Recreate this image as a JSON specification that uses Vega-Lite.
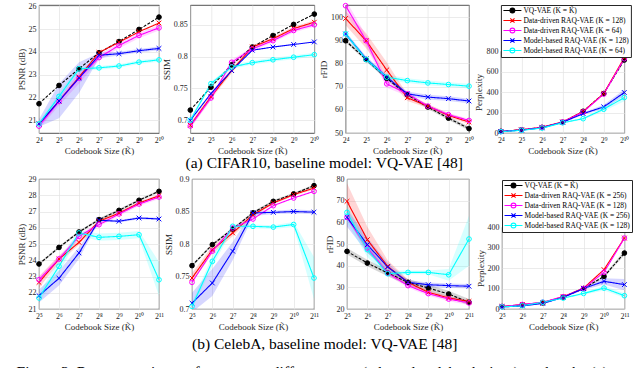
{
"$schema":"https://vega.github.io/schema/vega-lite/v6.json",
"padding":{"left":16,"top":0,"right":0,"bottom":0},
"data":{"values":[
{"p":"c1","s":"a","x":4,"y":21.73},{"p":"c1","s":"a","x":5,"y":22.53},{"p":"c1","s":"a","x":6,"y":23.26},{"p":"c1","s":"a","x":7,"y":23.96},{"p":"c1","s":"a","x":8,"y":24.45},{"p":"c1","s":"a","x":9,"y":24.98},{"p":"c1","s":"a","x":10,"y":25.52},
{"p":"c1","s":"b","x":4,"y":20.85},{"p":"c1","s":"b","x":5,"y":21.85},{"p":"c1","s":"b","x":6,"y":22.9},{"p":"c1","s":"b","x":7,"y":23.97},{"p":"c1","s":"b","x":8,"y":24.42},{"p":"c1","s":"b","x":9,"y":24.88},{"p":"c1","s":"b","x":10,"y":25.26},
{"p":"c1","s":"c","x":4,"y":20.75,"lo":20.62,"hi":20.9},{"p":"c1","s":"c","x":5,"y":21.83,"lo":21.65,"hi":22.0},{"p":"c1","s":"c","x":6,"y":22.85,"lo":22.6,"hi":23.1},{"p":"c1","s":"c","x":7,"y":23.75,"lo":23.62,"hi":23.88},{"p":"c1","s":"c","x":8,"y":24.28,"lo":24.16,"hi":24.4},{"p":"c1","s":"c","x":9,"y":24.72,"lo":24.6,"hi":24.84},{"p":"c1","s":"c","x":10,"y":25.05,"lo":24.93,"hi":25.17},
{"p":"c1","s":"d","x":4,"y":20.85,"lo":20.72,"hi":21.05},{"p":"c1","s":"d","x":5,"y":21.85,"lo":21.1,"hi":22.6},{"p":"c1","s":"d","x":6,"y":22.85,"lo":22.2,"hi":23.55},{"p":"c1","s":"d","x":7,"y":23.85,"lo":23.72,"hi":23.95},{"p":"c1","s":"d","x":8,"y":23.92,"lo":23.84,"hi":24.0},{"p":"c1","s":"d","x":9,"y":24.05,"lo":23.97,"hi":24.13},{"p":"c1","s":"d","x":10,"y":24.15,"lo":24.07,"hi":24.23},
{"p":"c1","s":"e","x":4,"y":20.85,"lo":20.77,"hi":20.93},{"p":"c1","s":"e","x":5,"y":22.05,"lo":21.9,"hi":22.2},{"p":"c1","s":"e","x":6,"y":23.26,"lo":23.16,"hi":23.36},{"p":"c1","s":"e","x":7,"y":23.3,"lo":23.22,"hi":23.38},{"p":"c1","s":"e","x":8,"y":23.38,"lo":23.3,"hi":23.46},{"p":"c1","s":"e","x":9,"y":23.55,"lo":23.47,"hi":23.63},{"p":"c1","s":"e","x":10,"y":23.65,"lo":23.57,"hi":23.73},

{"p":"c2","s":"a","x":4,"y":0.716},{"p":"c2","s":"a","x":5,"y":0.752},{"p":"c2","s":"a","x":6,"y":0.787},{"p":"c2","s":"a","x":7,"y":0.815},{"p":"c2","s":"a","x":8,"y":0.833},{"p":"c2","s":"a","x":9,"y":0.8505},{"p":"c2","s":"a","x":10,"y":0.8667},
{"p":"c2","s":"b","x":4,"y":0.692,"lo":0.688,"hi":0.696},{"p":"c2","s":"b","x":5,"y":0.737,"lo":0.733,"hi":0.741},{"p":"c2","s":"b","x":6,"y":0.778,"lo":0.774,"hi":0.782},{"p":"c2","s":"b","x":7,"y":0.815,"lo":0.812,"hi":0.818},{"p":"c2","s":"b","x":8,"y":0.828,"lo":0.825,"hi":0.831},{"p":"c2","s":"b","x":9,"y":0.844,"lo":0.841,"hi":0.847},{"p":"c2","s":"b","x":10,"y":0.854,"lo":0.851,"hi":0.857},
{"p":"c2","s":"c","x":4,"y":0.691,"lo":0.687,"hi":0.695},{"p":"c2","s":"c","x":5,"y":0.735,"lo":0.731,"hi":0.739},{"p":"c2","s":"c","x":6,"y":0.791,"lo":0.787,"hi":0.795},{"p":"c2","s":"c","x":7,"y":0.812,"lo":0.809,"hi":0.815},{"p":"c2","s":"c","x":8,"y":0.825,"lo":0.822,"hi":0.828},{"p":"c2","s":"c","x":9,"y":0.841,"lo":0.838,"hi":0.844},{"p":"c2","s":"c","x":10,"y":0.85,"lo":0.847,"hi":0.853},
{"p":"c2","s":"d","x":4,"y":0.70},{"p":"c2","s":"d","x":5,"y":0.742},{"p":"c2","s":"d","x":6,"y":0.778},{"p":"c2","s":"d","x":7,"y":0.81},{"p":"c2","s":"d","x":8,"y":0.815},{"p":"c2","s":"d","x":9,"y":0.819},{"p":"c2","s":"d","x":10,"y":0.823},
{"p":"c2","s":"e","x":4,"y":0.70,"lo":0.697,"hi":0.703},{"p":"c2","s":"e","x":5,"y":0.7575,"lo":0.7545,"hi":0.7605},{"p":"c2","s":"e","x":6,"y":0.7836,"lo":0.7806,"hi":0.7866},{"p":"c2","s":"e","x":7,"y":0.7904,"lo":0.7874,"hi":0.7934},{"p":"c2","s":"e","x":8,"y":0.795,"lo":0.792,"hi":0.798},{"p":"c2","s":"e","x":9,"y":0.799,"lo":0.796,"hi":0.802},{"p":"c2","s":"e","x":10,"y":0.803,"lo":0.8,"hi":0.806},

{"p":"c3","s":"a","x":4,"y":89.8,"lo":89.0,"hi":90.6},{"p":"c3","s":"a","x":5,"y":81.7,"lo":80.9,"hi":82.5},{"p":"c3","s":"a","x":6,"y":73.6,"lo":72.8,"hi":74.4},{"p":"c3","s":"a","x":7,"y":66.5,"lo":65.7,"hi":67.3},{"p":"c3","s":"a","x":8,"y":61.2,"lo":60.4,"hi":62.0},{"p":"c3","s":"a","x":9,"y":56.4,"lo":55.6,"hi":57.2},{"p":"c3","s":"a","x":10,"y":51.9,"lo":51.1,"hi":52.7},
{"p":"c3","s":"b","x":4,"y":99.4,"lo":96.5,"hi":102.5},{"p":"c3","s":"b","x":5,"y":89.8,"lo":86.5,"hi":93.0},{"p":"c3","s":"b","x":6,"y":77.2,"lo":74.0,"hi":80.5},{"p":"c3","s":"b","x":7,"y":65.2,"lo":63.8,"hi":66.6},{"p":"c3","s":"b","x":8,"y":61.6,"lo":60.8,"hi":62.5},{"p":"c3","s":"b","x":9,"y":57.6,"lo":56.8,"hi":58.5},{"p":"c3","s":"b","x":10,"y":54.7,"lo":53.8,"hi":55.6},
{"p":"c3","s":"c","x":4,"y":104.9,"lo":102.0,"hi":107.5},{"p":"c3","s":"c","x":5,"y":89.8,"lo":87.5,"hi":92.0},{"p":"c3","s":"c","x":6,"y":71.2,"lo":69.5,"hi":73.0},{"p":"c3","s":"c","x":7,"y":66.9,"lo":66.0,"hi":67.8},{"p":"c3","s":"c","x":8,"y":61.6,"lo":60.9,"hi":62.3},{"p":"c3","s":"c","x":9,"y":57.9,"lo":57.2,"hi":58.6},{"p":"c3","s":"c","x":10,"y":55.4,"lo":54.7,"hi":56.1},
{"p":"c3","s":"d","x":4,"y":92.7,"lo":91.7,"hi":93.7},{"p":"c3","s":"d","x":5,"y":82.0,"lo":81.0,"hi":83.0},{"p":"c3","s":"d","x":6,"y":74.1,"lo":73.1,"hi":75.1},{"p":"c3","s":"d","x":7,"y":66.9,"lo":65.9,"hi":67.9},{"p":"c3","s":"d","x":8,"y":65.5,"lo":64.5,"hi":66.5},{"p":"c3","s":"d","x":9,"y":64.8,"lo":63.8,"hi":65.8},{"p":"c3","s":"d","x":10,"y":63.8,"lo":62.8,"hi":64.8},
{"p":"c3","s":"e","x":4,"y":92.8,"lo":91.8,"hi":93.8},{"p":"c3","s":"e","x":5,"y":81.7,"lo":80.7,"hi":82.7},{"p":"c3","s":"e","x":6,"y":74.1,"lo":73.1,"hi":75.1},{"p":"c3","s":"e","x":7,"y":72.6,"lo":71.6,"hi":73.6},{"p":"c3","s":"e","x":8,"y":71.6,"lo":70.6,"hi":72.6},{"p":"c3","s":"e","x":9,"y":70.9,"lo":69.9,"hi":71.9},{"p":"c3","s":"e","x":10,"y":70.2,"lo":69.2,"hi":71.2},

{"p":"c4","s":"a","x":4,"y":16},{"p":"c4","s":"a","x":5,"y":31},{"p":"c4","s":"a","x":6,"y":55},{"p":"c4","s":"a","x":7,"y":105},{"p":"c4","s":"a","x":8,"y":212},{"p":"c4","s":"a","x":9,"y":385},{"p":"c4","s":"a","x":10,"y":712},
{"p":"c4","s":"b","x":4,"y":16},{"p":"c4","s":"b","x":5,"y":31},{"p":"c4","s":"b","x":6,"y":56},{"p":"c4","s":"b","x":7,"y":108},{"p":"c4","s":"b","x":8,"y":210},{"p":"c4","s":"b","x":9,"y":385},{"p":"c4","s":"b","x":10,"y":735},
{"p":"c4","s":"c","x":4,"y":15},{"p":"c4","s":"c","x":5,"y":30},{"p":"c4","s":"c","x":6,"y":54},{"p":"c4","s":"c","x":7,"y":107},{"p":"c4","s":"c","x":8,"y":205},{"p":"c4","s":"c","x":9,"y":380},{"p":"c4","s":"c","x":10,"y":725},
{"p":"c4","s":"d","x":4,"y":14,"lo":12,"hi":16},{"p":"c4","s":"d","x":5,"y":28,"lo":25,"hi":31},{"p":"c4","s":"d","x":6,"y":50,"lo":46,"hi":54},{"p":"c4","s":"d","x":7,"y":105,"lo":99,"hi":111},{"p":"c4","s":"d","x":8,"y":189,"lo":178,"hi":200},{"p":"c4","s":"d","x":9,"y":255,"lo":235,"hi":275},{"p":"c4","s":"d","x":10,"y":395,"lo":365,"hi":425},
{"p":"c4","s":"e","x":4,"y":13,"lo":11,"hi":15},{"p":"c4","s":"e","x":5,"y":26,"lo":23,"hi":29},{"p":"c4","s":"e","x":6,"y":48,"lo":44,"hi":52},{"p":"c4","s":"e","x":7,"y":100,"lo":94,"hi":106},{"p":"c4","s":"e","x":8,"y":140,"lo":130,"hi":150},{"p":"c4","s":"e","x":9,"y":232,"lo":212,"hi":252},{"p":"c4","s":"e","x":10,"y":346,"lo":310,"hi":380},

{"p":"e1","s":"a","x":5,"y":23.77,"lo":23.69,"hi":23.85},{"p":"e1","s":"a","x":6,"y":24.79,"lo":24.71,"hi":24.87},{"p":"e1","s":"a","x":7,"y":25.74,"lo":25.66,"hi":25.82},{"p":"e1","s":"a","x":8,"y":26.5,"lo":26.42,"hi":26.58},{"p":"e1","s":"a","x":9,"y":27.07,"lo":26.99,"hi":27.15},{"p":"e1","s":"a","x":10,"y":27.69,"lo":27.61,"hi":27.77},{"p":"e1","s":"a","x":11,"y":28.24,"lo":28.16,"hi":28.32},
{"p":"e1","s":"b","x":5,"y":22.64,"lo":22.3,"hi":23.0},{"p":"e1","s":"b","x":6,"y":24.08,"lo":23.85,"hi":24.3},{"p":"e1","s":"b","x":7,"y":25.1,"lo":24.95,"hi":25.3},{"p":"e1","s":"b","x":8,"y":26.4,"lo":26.3,"hi":26.5},{"p":"e1","s":"b","x":9,"y":26.9,"lo":26.8,"hi":27.0},{"p":"e1","s":"b","x":10,"y":27.52,"lo":27.42,"hi":27.62},{"p":"e1","s":"b","x":11,"y":27.97,"lo":27.88,"hi":28.06},
{"p":"e1","s":"c","x":5,"y":22.8,"lo":22.6,"hi":23.0},{"p":"e1","s":"c","x":6,"y":24.08,"lo":23.92,"hi":24.24},{"p":"e1","s":"c","x":7,"y":25.47,"lo":25.32,"hi":25.62},{"p":"e1","s":"c","x":8,"y":26.19,"lo":26.07,"hi":26.31},{"p":"e1","s":"c","x":9,"y":26.85,"lo":26.73,"hi":26.97},{"p":"e1","s":"c","x":10,"y":27.46,"lo":27.34,"hi":27.58},{"p":"e1","s":"c","x":11,"y":27.89,"lo":27.77,"hi":28.01},
{"p":"e1","s":"d","x":5,"y":21.82,"lo":21.4,"hi":22.2},{"p":"e1","s":"d","x":6,"y":22.89,"lo":22.45,"hi":23.35},{"p":"e1","s":"d","x":7,"y":24.45,"lo":24.1,"hi":24.8},{"p":"e1","s":"d","x":8,"y":26.46,"lo":26.38,"hi":26.54},{"p":"e1","s":"d","x":9,"y":26.4,"lo":26.32,"hi":26.48},{"p":"e1","s":"d","x":10,"y":26.6,"lo":26.52,"hi":26.68},{"p":"e1","s":"d","x":11,"y":26.54,"lo":26.46,"hi":26.62},
{"p":"e1","s":"e","x":5,"y":21.68,"lo":21.4,"hi":21.95},{"p":"e1","s":"e","x":6,"y":23.63,"lo":23.2,"hi":24.05},{"p":"e1","s":"e","x":7,"y":25.68,"lo":25.5,"hi":25.85},{"p":"e1","s":"e","x":8,"y":25.41,"lo":25.2,"hi":25.65},{"p":"e1","s":"e","x":9,"y":25.47,"lo":25.25,"hi":25.7},{"p":"e1","s":"e","x":10,"y":25.57,"lo":25.35,"hi":25.8},{"p":"e1","s":"e","x":11,"y":22.8,"lo":21.8,"hi":23.9},

{"p":"e2","s":"a","x":5,"y":0.7667,"lo":0.7647,"hi":0.7687},{"p":"e2","s":"a","x":6,"y":0.799,"lo":0.797,"hi":0.801},{"p":"e2","s":"a","x":7,"y":0.823,"lo":0.821,"hi":0.825},{"p":"e2","s":"a","x":8,"y":0.848,"lo":0.846,"hi":0.85},{"p":"e2","s":"a","x":9,"y":0.8656,"lo":0.8636,"hi":0.8676},{"p":"e2","s":"a","x":10,"y":0.877,"lo":0.875,"hi":0.879},{"p":"e2","s":"a","x":11,"y":0.8897,"lo":0.8877,"hi":0.8917},
{"p":"e2","s":"b","x":5,"y":0.7477,"lo":0.741,"hi":0.755},{"p":"e2","s":"b","x":6,"y":0.791,"lo":0.785,"hi":0.797},{"p":"e2","s":"b","x":7,"y":0.817,"lo":0.812,"hi":0.822},{"p":"e2","s":"b","x":8,"y":0.845,"lo":0.842,"hi":0.848},{"p":"e2","s":"b","x":9,"y":0.863,"lo":0.861,"hi":0.865},{"p":"e2","s":"b","x":10,"y":0.876,"lo":0.874,"hi":0.878},{"p":"e2","s":"b","x":11,"y":0.886,"lo":0.884,"hi":0.888},
{"p":"e2","s":"c","x":5,"y":0.741},{"p":"e2","s":"c","x":6,"y":0.789},{"p":"e2","s":"c","x":7,"y":0.8246},{"p":"e2","s":"c","x":8,"y":0.8385},{"p":"e2","s":"c","x":9,"y":0.859},{"p":"e2","s":"c","x":10,"y":0.8708},{"p":"e2","s":"c","x":11,"y":0.881},
{"p":"e2","s":"d","x":5,"y":0.709,"lo":0.695,"hi":0.725},{"p":"e2","s":"d","x":6,"y":0.74,"lo":0.72,"hi":0.762},{"p":"e2","s":"d","x":7,"y":0.789,"lo":0.775,"hi":0.803},{"p":"e2","s":"d","x":8,"y":0.8477,"lo":0.843,"hi":0.852},{"p":"e2","s":"d","x":9,"y":0.8487,"lo":0.846,"hi":0.851},{"p":"e2","s":"d","x":10,"y":0.85,"lo":0.847,"hi":0.853},{"p":"e2","s":"d","x":11,"y":0.849,"lo":0.846,"hi":0.852},
{"p":"e2","s":"e","x":5,"y":0.704,"lo":0.7,"hi":0.71},{"p":"e2","s":"e","x":6,"y":0.7733,"lo":0.765,"hi":0.782},{"p":"e2","s":"e","x":7,"y":0.8272,"lo":0.823,"hi":0.831},{"p":"e2","s":"e","x":8,"y":0.8272,"lo":0.824,"hi":0.83},{"p":"e2","s":"e","x":9,"y":0.826,"lo":0.823,"hi":0.829},{"p":"e2","s":"e","x":10,"y":0.83,"lo":0.826,"hi":0.834},{"p":"e2","s":"e","x":11,"y":0.7477,"lo":0.715,"hi":0.78},

{"p":"e3","s":"a","x":5,"y":46.6,"lo":45.1,"hi":48.1},{"p":"e3","s":"a","x":6,"y":41.2,"lo":39.7,"hi":42.7},{"p":"e3","s":"a","x":7,"y":36.6,"lo":35.1,"hi":38.1},{"p":"e3","s":"a","x":8,"y":32.3,"lo":30.8,"hi":33.8},{"p":"e3","s":"a","x":9,"y":29.7,"lo":28.2,"hi":31.2},{"p":"e3","s":"a","x":10,"y":26.9,"lo":25.4,"hi":28.4},{"p":"e3","s":"a","x":11,"y":23.1,"lo":21.6,"hi":24.6},
{"p":"e3","s":"b","x":5,"y":69.7,"lo":62,"hi":78},{"p":"e3","s":"b","x":6,"y":52.0,"lo":46,"hi":58},{"p":"e3","s":"b","x":7,"y":39.7,"lo":37,"hi":42.5},{"p":"e3","s":"b","x":8,"y":32.3,"lo":31,"hi":33.6},{"p":"e3","s":"b","x":9,"y":27.7,"lo":26.8,"hi":28.6},{"p":"e3","s":"b","x":10,"y":25.1,"lo":24.3,"hi":25.9},{"p":"e3","s":"b","x":11,"y":23.5,"lo":22.8,"hi":24.2},
{"p":"e3","s":"c","x":5,"y":62.3,"lo":61.3,"hi":63.3},{"p":"e3","s":"c","x":6,"y":48.2,"lo":47.2,"hi":49.2},{"p":"e3","s":"c","x":7,"y":36.6,"lo":35.6,"hi":37.6},{"p":"e3","s":"c","x":8,"y":30.8,"lo":29.8,"hi":31.8},{"p":"e3","s":"c","x":9,"y":27.1,"lo":26.1,"hi":28.1},{"p":"e3","s":"c","x":10,"y":24.6,"lo":23.6,"hi":25.6},{"p":"e3","s":"c","x":11,"y":22.8,"lo":21.8,"hi":23.8},
{"p":"e3","s":"d","x":5,"y":62.3,"lo":58,"hi":66},{"p":"e3","s":"d","x":6,"y":49.7,"lo":46,"hi":53},{"p":"e3","s":"d","x":7,"y":39.4,"lo":37.5,"hi":41.3},{"p":"e3","s":"d","x":8,"y":32.3,"lo":31.3,"hi":33.3},{"p":"e3","s":"d","x":9,"y":31.2,"lo":30.2,"hi":32.2},{"p":"e3","s":"d","x":10,"y":30.8,"lo":29.8,"hi":31.8},{"p":"e3","s":"d","x":11,"y":30.5,"lo":29.5,"hi":31.5},
{"p":"e3","s":"e","x":5,"y":64.6,"lo":60,"hi":68},{"p":"e3","s":"e","x":6,"y":47.4,"lo":44,"hi":50},{"p":"e3","s":"e","x":7,"y":36.3,"lo":35,"hi":37.6},{"p":"e3","s":"e","x":8,"y":36.9,"lo":36,"hi":37.8},{"p":"e3","s":"e","x":9,"y":36.9,"lo":36,"hi":37.8},{"p":"e3","s":"e","x":10,"y":35.8,"lo":33,"hi":38.5},{"p":"e3","s":"e","x":11,"y":52.3,"lo":40,"hi":63},

{"p":"e4","s":"a","x":5,"y":12,"lo":11,"hi":13},{"p":"e4","s":"a","x":6,"y":19,"lo":17,"hi":21},{"p":"e4","s":"a","x":7,"y":30,"lo":28,"hi":32},{"p":"e4","s":"a","x":8,"y":58,"lo":55,"hi":61},{"p":"e4","s":"a","x":9,"y":100,"lo":96,"hi":104},{"p":"e4","s":"a","x":10,"y":159,"lo":152,"hi":166},{"p":"e4","s":"a","x":11,"y":273,"lo":262,"hi":285},
{"p":"e4","s":"b","x":5,"y":12},{"p":"e4","s":"b","x":6,"y":22},{"p":"e4","s":"b","x":7,"y":32},{"p":"e4","s":"b","x":8,"y":60},{"p":"e4","s":"b","x":9,"y":102},{"p":"e4","s":"b","x":10,"y":192},{"p":"e4","s":"b","x":11,"y":346},
{"p":"e4","s":"c","x":5,"y":12},{"p":"e4","s":"c","x":6,"y":22},{"p":"e4","s":"c","x":7,"y":33},{"p":"e4","s":"c","x":8,"y":60},{"p":"e4","s":"c","x":9,"y":100},{"p":"e4","s":"c","x":10,"y":179},{"p":"e4","s":"c","x":11,"y":346},
{"p":"e4","s":"d","x":5,"y":10,"lo":9,"hi":11},{"p":"e4","s":"d","x":6,"y":15,"lo":13,"hi":17},{"p":"e4","s":"d","x":7,"y":27,"lo":25,"hi":29},{"p":"e4","s":"d","x":8,"y":57,"lo":54,"hi":60},{"p":"e4","s":"d","x":9,"y":100,"lo":93,"hi":107},{"p":"e4","s":"d","x":10,"y":135,"lo":120,"hi":150},{"p":"e4","s":"d","x":11,"y":119,"lo":92,"hi":146},
{"p":"e4","s":"e","x":5,"y":10,"lo":9,"hi":11},{"p":"e4","s":"e","x":6,"y":16,"lo":14,"hi":18},{"p":"e4","s":"e","x":7,"y":33,"lo":31,"hi":35},{"p":"e4","s":"e","x":8,"y":53,"lo":50,"hi":56},{"p":"e4","s":"e","x":9,"y":76,"lo":70,"hi":82},{"p":"e4","s":"e","x":10,"y":102,"lo":90,"hi":114},{"p":"e4","s":"e","x":11,"y":65,"lo":55,"hi":77}
]},
"title":{"text":"Figure 3: Reconstruction performance at different rates (adapted codebook sizes), and at the (a)","orient":"bottom","anchor":"start","fontSize":15.5,"offset":12},
"spacing":2,
"vconcat":[
{"hconcat":[
 {"width":120,"height":128,"transform":[{"filter":"datum.p=='c1'"}],
  "encoding":{"x":{"field":"x","type":"quantitative","scale":{"domain":[4,10],"nice":false,"zero":false},"axis":{"values":[4,5,6,7,8,9,10],"title":"Codebook Size (K\u0303)","labelExpr":"'2'+(datum.value==4?'\u2074':datum.value==5?'\u2075':datum.value==6?'\u2076':datum.value==7?'\u2077':datum.value==8?'\u2078':datum.value==9?'\u2079':datum.value==10?'\u00b9\u2070':'\u00b9\u00b9')"}},
   "y":{"field":"y","type":"quantitative","scale":{"domain":[20.45,26.05],"nice":false,"zero":false},"axis":{"values":[21,22,23,24,25,26],"title":"PSNR (dB)"}}},
  "layer":[
   {"transform":[{"filter":"isValid(datum.lo)"}],"mark":{"type":"area","opacity":0.16,"clip":true},"encoding":{"y":{"field":"lo","type":"quantitative","scale":{"domain":[20.45,26.05],"nice":false,"zero":false},"axis":{"values":[21,22,23,24,25,26],"title":"PSNR (dB)"}},"y2":{"field":"hi"},"color":{"field":"s","type":"nominal","scale":{"domain":["a","b","c","d","e"],"range":["#000000","#ff0000","#ff00ff","#0000ff","#00ffff"]},"legend":null}}},
   {"mark":{"type":"line","strokeWidth":1.1},"encoding":{"stroke":{"field":"s","type":"nominal","scale":{"domain":["a","b","c","d","e"],"range":["#000000","#ff0000","#ff00ff","#0000ff","#00ffff"]},"legend":null},"strokeDash":{"field":"s","type":"nominal","scale":{"domain":["a","b","c","d","e"],"range":[[3,1.5],[1,0],[1,0],[1,0],[1,0]]},"legend":null}}},
   {"mark":{"type":"point","filled":false,"opacity":1,"size":22,"strokeWidth":1},"encoding":{"stroke":{"field":"s","type":"nominal","scale":{"domain":["a","b","c","d","e"],"range":["#000000","#ff0000","#ff00ff","#0000ff","#00ffff"]},"legend":null},"fill":{"field":"s","type":"nominal","scale":{"domain":["a","b","c","d","e"],"range":["#000000","transparent","transparent","transparent","transparent"]},"legend":null},"shape":{"field":"s","type":"nominal","scale":{"domain":["a","b","c","d","e"],"range":["circle","M-1,-1L1,1M-1,1L1,-1","circle","M-1,-1L1,1M-1,1L1,-1","circle"]},"legend":null}}}
  ]},
 {"width":124,"height":128,"transform":[{"filter":"datum.p=='c2'"}],
  "encoding":{"x":{"field":"x","type":"quantitative","scale":{"domain":[4,10],"nice":false,"zero":false},"axis":{"values":[4,5,6,7,8,9,10],"title":"Codebook Size (K\u0303)","labelExpr":"'2'+(datum.value==4?'\u2074':datum.value==5?'\u2075':datum.value==6?'\u2076':datum.value==7?'\u2077':datum.value==8?'\u2078':datum.value==9?'\u2079':datum.value==10?'\u00b9\u2070':'\u00b9\u00b9')"}},
   "y":{"field":"y","type":"quantitative","scale":{"domain":[0.68,0.881],"nice":false,"zero":false},"axis":{"values":[0.7,0.75,0.8,0.85],"format":"~g","title":"SSIM"}}},
  "layer":[
   {"transform":[{"filter":"isValid(datum.lo)"}],"mark":{"type":"area","opacity":0.16,"clip":true},"encoding":{"y":{"field":"lo","type":"quantitative","scale":{"domain":[0.68,0.881],"nice":false,"zero":false},"axis":{"values":[0.7,0.75,0.8,0.85],"format":"~g","title":"SSIM"}},"y2":{"field":"hi"},"color":{"field":"s","type":"nominal","scale":{"domain":["a","b","c","d","e"],"range":["#000000","#ff0000","#ff00ff","#0000ff","#00ffff"]},"legend":null}}},
   {"mark":{"type":"line","strokeWidth":1.1},"encoding":{"stroke":{"field":"s","type":"nominal","scale":{"domain":["a","b","c","d","e"],"range":["#000000","#ff0000","#ff00ff","#0000ff","#00ffff"]},"legend":null},"strokeDash":{"field":"s","type":"nominal","scale":{"domain":["a","b","c","d","e"],"range":[[3,1.5],[1,0],[1,0],[1,0],[1,0]]},"legend":null}}},
   {"mark":{"type":"point","filled":false,"opacity":1,"size":22,"strokeWidth":1},"encoding":{"stroke":{"field":"s","type":"nominal","scale":{"domain":["a","b","c","d","e"],"range":["#000000","#ff0000","#ff00ff","#0000ff","#00ffff"]},"legend":null},"fill":{"field":"s","type":"nominal","scale":{"domain":["a","b","c","d","e"],"range":["#000000","transparent","transparent","transparent","transparent"]},"legend":null},"shape":{"field":"s","type":"nominal","scale":{"domain":["a","b","c","d","e"],"range":["circle","M-1,-1L1,1M-1,1L1,-1","circle","M-1,-1L1,1M-1,1L1,-1","circle"]},"legend":null}}}
  ]},
 {"width":123.4,"height":128,"transform":[{"filter":"datum.p=='c3'"}],
  "encoding":{"x":{"field":"x","type":"quantitative","scale":{"domain":[4,10],"nice":false,"zero":false},"axis":{"values":[4,5,6,7,8,9,10],"title":"Codebook Size (K\u0303)","labelExpr":"'2'+(datum.value==4?'\u2074':datum.value==5?'\u2075':datum.value==6?'\u2076':datum.value==7?'\u2077':datum.value==8?'\u2078':datum.value==9?'\u2079':datum.value==10?'\u00b9\u2070':'\u00b9\u00b9')"}},
   "y":{"field":"y","type":"quantitative","scale":{"domain":[50,105.2],"nice":false,"zero":false},"axis":{"values":[50,60,70,80,90,100],"title":"rFID"}}},
  "layer":[
   {"transform":[{"filter":"isValid(datum.lo)"}],"mark":{"type":"area","opacity":0.16,"clip":true},"encoding":{"y":{"field":"lo","type":"quantitative","scale":{"domain":[50,105.2],"nice":false,"zero":false},"axis":{"values":[50,60,70,80,90,100],"title":"rFID"}},"y2":{"field":"hi"},"color":{"field":"s","type":"nominal","scale":{"domain":["a","b","c","d","e"],"range":["#000000","#ff0000","#ff00ff","#0000ff","#00ffff"]},"legend":null}}},
   {"mark":{"type":"line","strokeWidth":1.1},"encoding":{"stroke":{"field":"s","type":"nominal","scale":{"domain":["a","b","c","d","e"],"range":["#000000","#ff0000","#ff00ff","#0000ff","#00ffff"]},"legend":null},"strokeDash":{"field":"s","type":"nominal","scale":{"domain":["a","b","c","d","e"],"range":[[3,1.5],[1,0],[1,0],[1,0],[1,0]]},"legend":null}}},
   {"mark":{"type":"point","filled":false,"opacity":1,"size":22,"strokeWidth":1},"encoding":{"stroke":{"field":"s","type":"nominal","scale":{"domain":["a","b","c","d","e"],"range":["#000000","#ff0000","#ff00ff","#0000ff","#00ffff"]},"legend":null},"fill":{"field":"s","type":"nominal","scale":{"domain":["a","b","c","d","e"],"range":["#000000","transparent","transparent","transparent","transparent"]},"legend":null},"shape":{"field":"s","type":"nominal","scale":{"domain":["a","b","c","d","e"],"range":["circle","M-1,-1L1,1M-1,1L1,-1","circle","M-1,-1L1,1M-1,1L1,-1","circle"]},"legend":null}}}
  ]},
 {"vconcat":[
  {"width":123.4,"height":42,"mark":{"type":"point","opacity":0},"view":{"stroke":null},"transform":[{"filter":"datum.p=='c4' && datum.x==4 && datum.s=='a'"}]},
  {"width":123.4,"height":82,"transform":[{"filter":"datum.p=='c4'"}],
  "encoding":{"x":{"field":"x","type":"quantitative","scale":{"domain":[4,10],"nice":false,"zero":false},"axis":{"values":[4,5,6,7,8,9,10],"title":"Codebook Size (K\u0303)","labelExpr":"'2'+(datum.value==4?'\u2074':datum.value==5?'\u2075':datum.value==6?'\u2076':datum.value==7?'\u2077':datum.value==8?'\u2078':datum.value==9?'\u2079':datum.value==10?'\u00b9\u2070':'\u00b9\u00b9')"}},
   "y":{"field":"y","type":"quantitative","scale":{"domain":[0,800],"nice":false,"zero":false},"axis":{"values":[0,200,400,600,800],"title":"Perplexity"}}},
  "layer":[
   {"transform":[{"filter":"isValid(datum.lo)"}],"mark":{"type":"area","opacity":0.16,"clip":true},"encoding":{"y":{"field":"lo","type":"quantitative","scale":{"domain":[0,800],"nice":false,"zero":false},"axis":{"values":[0,200,400,600,800],"title":"Perplexity"}},"y2":{"field":"hi"},"color":{"field":"s","type":"nominal","scale":{"domain":["e","d","c","b","a"],"range":["#00ffff","#0000ff","#ff00ff","#ff0000","#000000"]},"legend":null}}},
   {"mark":{"type":"line","strokeWidth":1.1},"encoding":{"stroke":{"field":"s","type":"nominal","scale":{"domain":["a","b","c","d","e"],"range":["#000000","#ff0000","#ff00ff","#0000ff","#00ffff"]},"legend":{"orient":"none","legendX":0,"legendY":-46,"title":null,"fillColor":"#ffffff","strokeColor":"#262626","padding":1.5,"rowPadding":0,"symbolSize":36,"symbolStrokeWidth":1.1,"labelOffset":13,"labelFontSize":7.5,"labelLimit":300,"labelExpr":"datum.value=='a'?'VQ-VAE (K = K\u0303)':datum.value=='b'?'Data-driven RAQ-VAE (K = 128)':datum.value=='c'?'Data-driven RAQ-VAE (K = 64)':datum.value=='d'?'Model-based RAQ-VAE (K = 128)':'Model-based RAQ-VAE (K = 64)'","encode":{"symbols":{"update":{"shape":{"signal":"(datum.value=='b'||datum.value=='d')?'M-1,0H5M1.3,-0.7L2.7,0.7M1.3,0.7L2.7,-0.7':'M-1,0H5M2.8,0A0.8,0.8 0 1,1 1.2,0A0.8,0.8 0 1,1 2.8,0'"},"size":{"value":36}}}}}},"strokeDash":{"field":"s","type":"nominal","scale":{"domain":["e","d","c","b","a"],"range":[[1,0],[1,0],[1,0],[1,0],[3,1.5]]},"legend":null}}},
   {"mark":{"type":"point","filled":false,"opacity":1,"size":22,"strokeWidth":1},"encoding":{
     "stroke":{"field":"s","type":"nominal","scale":{"domain":["a","b","c","d","e"],"range":["#000000","#ff0000","#ff00ff","#0000ff","#00ffff"]},"legend":{"orient":"none","legendX":0,"legendY":-46,"title":null,"fillColor":"#ffffff","strokeColor":"#262626","padding":1.5,"rowPadding":0,"symbolSize":36,"symbolStrokeWidth":1.1,"labelOffset":13,"labelFontSize":7.5,"labelLimit":300,"labelExpr":"datum.value=='a'?'VQ-VAE (K = K\u0303)':datum.value=='b'?'Data-driven RAQ-VAE (K = 128)':datum.value=='c'?'Data-driven RAQ-VAE (K = 64)':datum.value=='d'?'Model-based RAQ-VAE (K = 128)':'Model-based RAQ-VAE (K = 64)'","encode":{"symbols":{"update":{"shape":{"signal":"(datum.value=='b'||datum.value=='d')?'M-1,0H5M1.3,-0.7L2.7,0.7M1.3,0.7L2.7,-0.7':'M-1,0H5M2.8,0A0.8,0.8 0 1,1 1.2,0A0.8,0.8 0 1,1 2.8,0'"},"size":{"value":36}}}}}},
     "fill":{"field":"s","type":"nominal","scale":{"domain":["a","b","c","d","e"],"range":["#000000","transparent","transparent","transparent","transparent"]},"legend":{"orient":"none","legendX":0,"legendY":-46,"title":null,"fillColor":"#ffffff","strokeColor":"#262626","padding":1.5,"rowPadding":0,"symbolSize":36,"symbolStrokeWidth":1.1,"labelOffset":13,"labelFontSize":7.5,"labelLimit":300,"labelExpr":"datum.value=='a'?'VQ-VAE (K = K\u0303)':datum.value=='b'?'Data-driven RAQ-VAE (K = 128)':datum.value=='c'?'Data-driven RAQ-VAE (K = 64)':datum.value=='d'?'Model-based RAQ-VAE (K = 128)':'Model-based RAQ-VAE (K = 64)'","encode":{"symbols":{"update":{"shape":{"signal":"(datum.value=='b'||datum.value=='d')?'M-1,0H5M1.3,-0.7L2.7,0.7M1.3,0.7L2.7,-0.7':'M-1,0H5M2.8,0A0.8,0.8 0 1,1 1.2,0A0.8,0.8 0 1,1 2.8,0'"},"size":{"value":36}}}}}},
     "shape":{"field":"s","type":"nominal","scale":{"domain":["e","d","c","b","a"],"range":["circle","M-1,-1L1,1M-1,1L1,-1","circle","M-1,-1L1,1M-1,1L1,-1","circle"]},"legend":null}}}
  ]}
 ],"spacing":4,"bounds":"flush",
 "resolve":{"scale":{"color":"independent","stroke":"independent","fill":"independent","shape":"independent","strokeDash":"independent"},"legend":{"stroke":"independent","fill":"independent","shape":"independent"}}}
],"spacing":31.3,"bounds":"flush",
"resolve":{"scale":{"color":"independent","stroke":"independent","fill":"independent","shape":"independent","strokeDash":"independent"},"legend":{"stroke":"independent","fill":"independent","shape":"independent"}},
"title":{"text":"(a) CIFAR10, baseline model: VQ-VAE [48]","orient":"bottom","anchor":"middle","offset":1,"fontSize":15.5}},

{"hconcat":[
 {"width":120,"height":130,"transform":[{"filter":"datum.p=='e1'"}],
  "encoding":{"x":{"field":"x","type":"quantitative","scale":{"domain":[5,11],"nice":false,"zero":false},"axis":{"values":[5,6,7,8,9,10,11],"title":"Codebook Size (K\u0303)","labelExpr":"'2'+(datum.value==4?'\u2074':datum.value==5?'\u2075':datum.value==6?'\u2076':datum.value==7?'\u2077':datum.value==8?'\u2078':datum.value==9?'\u2079':datum.value==10?'\u00b9\u2070':'\u00b9\u00b9')"}},
   "y":{"field":"y","type":"quantitative","scale":{"domain":[21,29],"nice":false,"zero":false},"axis":{"values":[21,22,23,24,25,26,27,28,29],"title":"PSNR (dB)"}}},
  "layer":[
   {"transform":[{"filter":"isValid(datum.lo)"}],"mark":{"type":"area","opacity":0.16,"clip":true},"encoding":{"y":{"field":"lo","type":"quantitative","scale":{"domain":[21,29],"nice":false,"zero":false},"axis":{"values":[21,22,23,24,25,26,27,28,29],"title":"PSNR (dB)"}},"y2":{"field":"hi"},"color":{"field":"s","type":"nominal","scale":{"domain":["a","b","c","d","e"],"range":["#000000","#ff0000","#ff00ff","#0000ff","#00ffff"]},"legend":null}}},
   {"mark":{"type":"line","strokeWidth":1.1},"encoding":{"stroke":{"field":"s","type":"nominal","scale":{"domain":["a","b","c","d","e"],"range":["#000000","#ff0000","#ff00ff","#0000ff","#00ffff"]},"legend":null},"strokeDash":{"field":"s","type":"nominal","scale":{"domain":["a","b","c","d","e"],"range":[[3,1.5],[1,0],[1,0],[1,0],[1,0]]},"legend":null}}},
   {"mark":{"type":"point","filled":false,"opacity":1,"size":22,"strokeWidth":1},"encoding":{"stroke":{"field":"s","type":"nominal","scale":{"domain":["a","b","c","d","e"],"range":["#000000","#ff0000","#ff00ff","#0000ff","#00ffff"]},"legend":null},"fill":{"field":"s","type":"nominal","scale":{"domain":["a","b","c","d","e"],"range":["#000000","transparent","transparent","transparent","transparent"]},"legend":null},"shape":{"field":"s","type":"nominal","scale":{"domain":["a","b","c","d","e"],"range":["circle","M-1,-1L1,1M-1,1L1,-1","circle","M-1,-1L1,1M-1,1L1,-1","circle"]},"legend":null}}}
  ]},
 {"width":122,"height":130,"transform":[{"filter":"datum.p=='e2'"}],
  "encoding":{"x":{"field":"x","type":"quantitative","scale":{"domain":[5,11],"nice":false,"zero":false},"axis":{"values":[5,6,7,8,9,10,11],"title":"Codebook Size (K\u0303)","labelExpr":"'2'+(datum.value==4?'\u2074':datum.value==5?'\u2075':datum.value==6?'\u2076':datum.value==7?'\u2077':datum.value==8?'\u2078':datum.value==9?'\u2079':datum.value==10?'\u00b9\u2070':'\u00b9\u00b9')"}},
   "y":{"field":"y","type":"quantitative","scale":{"domain":[0.7,0.9],"nice":false,"zero":false},"axis":{"values":[0.7,0.75,0.8,0.85,0.9],"format":"~g","title":"SSIM"}}},
  "layer":[
   {"transform":[{"filter":"isValid(datum.lo)"}],"mark":{"type":"area","opacity":0.16,"clip":true},"encoding":{"y":{"field":"lo","type":"quantitative","scale":{"domain":[0.7,0.9],"nice":false,"zero":false},"axis":{"values":[0.7,0.75,0.8,0.85,0.9],"format":"~g","title":"SSIM"}},"y2":{"field":"hi"},"color":{"field":"s","type":"nominal","scale":{"domain":["a","b","c","d","e"],"range":["#000000","#ff0000","#ff00ff","#0000ff","#00ffff"]},"legend":null}}},
   {"mark":{"type":"line","strokeWidth":1.1},"encoding":{"stroke":{"field":"s","type":"nominal","scale":{"domain":["a","b","c","d","e"],"range":["#000000","#ff0000","#ff00ff","#0000ff","#00ffff"]},"legend":null},"strokeDash":{"field":"s","type":"nominal","scale":{"domain":["a","b","c","d","e"],"range":[[3,1.5],[1,0],[1,0],[1,0],[1,0]]},"legend":null}}},
   {"mark":{"type":"point","filled":false,"opacity":1,"size":22,"strokeWidth":1},"encoding":{"stroke":{"field":"s","type":"nominal","scale":{"domain":["a","b","c","d","e"],"range":["#000000","#ff0000","#ff00ff","#0000ff","#00ffff"]},"legend":null},"fill":{"field":"s","type":"nominal","scale":{"domain":["a","b","c","d","e"],"range":["#000000","transparent","transparent","transparent","transparent"]},"legend":null},"shape":{"field":"s","type":"nominal","scale":{"domain":["a","b","c","d","e"],"range":["circle","M-1,-1L1,1M-1,1L1,-1","circle","M-1,-1L1,1M-1,1L1,-1","circle"]},"legend":null}}}
  ]},
 {"width":122,"height":130,"transform":[{"filter":"datum.p=='e3'"}],
  "encoding":{"x":{"field":"x","type":"quantitative","scale":{"domain":[5,11],"nice":false,"zero":false},"axis":{"values":[5,6,7,8,9,10,11],"title":"Codebook Size (K\u0303)","labelExpr":"'2'+(datum.value==4?'\u2074':datum.value==5?'\u2075':datum.value==6?'\u2076':datum.value==7?'\u2077':datum.value==8?'\u2078':datum.value==9?'\u2079':datum.value==10?'\u00b9\u2070':'\u00b9\u00b9')"}},
   "y":{"field":"y","type":"quantitative","scale":{"domain":[20,80],"nice":false,"zero":false},"axis":{"values":[20,30,40,50,60,70,80],"title":"rFID"}}},
  "layer":[
   {"transform":[{"filter":"isValid(datum.lo)"}],"mark":{"type":"area","opacity":0.16,"clip":true},"encoding":{"y":{"field":"lo","type":"quantitative","scale":{"domain":[20,80],"nice":false,"zero":false},"axis":{"values":[20,30,40,50,60,70,80],"title":"rFID"}},"y2":{"field":"hi"},"color":{"field":"s","type":"nominal","scale":{"domain":["a","b","c","d","e"],"range":["#000000","#ff0000","#ff00ff","#0000ff","#00ffff"]},"legend":null}}},
   {"mark":{"type":"line","strokeWidth":1.1},"encoding":{"stroke":{"field":"s","type":"nominal","scale":{"domain":["a","b","c","d","e"],"range":["#000000","#ff0000","#ff00ff","#0000ff","#00ffff"]},"legend":null},"strokeDash":{"field":"s","type":"nominal","scale":{"domain":["a","b","c","d","e"],"range":[[3,1.5],[1,0],[1,0],[1,0],[1,0]]},"legend":null}}},
   {"mark":{"type":"point","filled":false,"opacity":1,"size":22,"strokeWidth":1},"encoding":{"stroke":{"field":"s","type":"nominal","scale":{"domain":["a","b","c","d","e"],"range":["#000000","#ff0000","#ff00ff","#0000ff","#00ffff"]},"legend":null},"fill":{"field":"s","type":"nominal","scale":{"domain":["a","b","c","d","e"],"range":["#000000","transparent","transparent","transparent","transparent"]},"legend":null},"shape":{"field":"s","type":"nominal","scale":{"domain":["a","b","c","d","e"],"range":["circle","M-1,-1L1,1M-1,1L1,-1","circle","M-1,-1L1,1M-1,1L1,-1","circle"]},"legend":null}}}
  ]},
 {"vconcat":[
  {"width":122.4,"height":44,"mark":{"type":"point","opacity":0},"view":{"stroke":null},"transform":[{"filter":"datum.p=='e4' && datum.x==5 && datum.s=='a'"}]},
  {"width":122.4,"height":82,"transform":[{"filter":"datum.p=='e4'"}],
  "encoding":{"x":{"field":"x","type":"quantitative","scale":{"domain":[5,11],"nice":false,"zero":false},"axis":{"values":[5,6,7,8,9,10,11],"title":"Codebook Size (K\u0303)","labelExpr":"'2'+(datum.value==4?'\u2074':datum.value==5?'\u2075':datum.value==6?'\u2076':datum.value==7?'\u2077':datum.value==8?'\u2078':datum.value==9?'\u2079':datum.value==10?'\u00b9\u2070':'\u00b9\u00b9')"}},
   "y":{"field":"y","type":"quantitative","scale":{"domain":[0,400],"nice":false,"zero":false},"axis":{"values":[0,100,200,300,400],"title":"Perplexity"}}},
  "layer":[
   {"transform":[{"filter":"isValid(datum.lo)"}],"mark":{"type":"area","opacity":0.16,"clip":true},"encoding":{"y":{"field":"lo","type":"quantitative","scale":{"domain":[0,400],"nice":false,"zero":false},"axis":{"values":[0,100,200,300,400],"title":"Perplexity"}},"y2":{"field":"hi"},"color":{"field":"s","type":"nominal","scale":{"domain":["e","d","c","b","a"],"range":["#00ffff","#0000ff","#ff00ff","#ff0000","#000000"]},"legend":null}}},
   {"mark":{"type":"line","strokeWidth":1.1},"encoding":{"stroke":{"field":"s","type":"nominal","scale":{"domain":["a","b","c","d","e"],"range":["#000000","#ff0000","#ff00ff","#0000ff","#00ffff"]},"legend":{"orient":"none","legendX":0,"legendY":-47,"title":null,"fillColor":"#ffffff","strokeColor":"#262626","padding":1.5,"rowPadding":0,"symbolSize":36,"symbolStrokeWidth":1.1,"labelOffset":13,"labelFontSize":7.5,"labelLimit":300,"labelExpr":"datum.value=='a'?'VQ-VAE (K = K\u0303)':datum.value=='b'?'Data-driven RAQ-VAE (K = 256)':datum.value=='c'?'Data-driven RAQ-VAE (K = 128)':datum.value=='d'?'Model-based RAQ-VAE (K = 256)':'Model-based RAQ-VAE (K = 128)'","encode":{"symbols":{"update":{"shape":{"signal":"(datum.value=='b'||datum.value=='d')?'M-1,0H5M1.3,-0.7L2.7,0.7M1.3,0.7L2.7,-0.7':'M-1,0H5M2.8,0A0.8,0.8 0 1,1 1.2,0A0.8,0.8 0 1,1 2.8,0'"},"size":{"value":36}}}}}},"strokeDash":{"field":"s","type":"nominal","scale":{"domain":["e","d","c","b","a"],"range":[[1,0],[1,0],[1,0],[1,0],[3,1.5]]},"legend":null}}},
   {"mark":{"type":"point","filled":false,"opacity":1,"size":22,"strokeWidth":1},"encoding":{
     "stroke":{"field":"s","type":"nominal","scale":{"domain":["a","b","c","d","e"],"range":["#000000","#ff0000","#ff00ff","#0000ff","#00ffff"]},"legend":{"orient":"none","legendX":0,"legendY":-47,"title":null,"fillColor":"#ffffff","strokeColor":"#262626","padding":1.5,"rowPadding":0,"symbolSize":36,"symbolStrokeWidth":1.1,"labelOffset":13,"labelFontSize":7.5,"labelLimit":300,"labelExpr":"datum.value=='a'?'VQ-VAE (K = K\u0303)':datum.value=='b'?'Data-driven RAQ-VAE (K = 256)':datum.value=='c'?'Data-driven RAQ-VAE (K = 128)':datum.value=='d'?'Model-based RAQ-VAE (K = 256)':'Model-based RAQ-VAE (K = 128)'","encode":{"symbols":{"update":{"shape":{"signal":"(datum.value=='b'||datum.value=='d')?'M-1,0H5M1.3,-0.7L2.7,0.7M1.3,0.7L2.7,-0.7':'M-1,0H5M2.8,0A0.8,0.8 0 1,1 1.2,0A0.8,0.8 0 1,1 2.8,0'"},"size":{"value":36}}}}}},
     "fill":{"field":"s","type":"nominal","scale":{"domain":["a","b","c","d","e"],"range":["#000000","transparent","transparent","transparent","transparent"]},"legend":{"orient":"none","legendX":0,"legendY":-47,"title":null,"fillColor":"#ffffff","strokeColor":"#262626","padding":1.5,"rowPadding":0,"symbolSize":36,"symbolStrokeWidth":1.1,"labelOffset":13,"labelFontSize":7.5,"labelLimit":300,"labelExpr":"datum.value=='a'?'VQ-VAE (K = K\u0303)':datum.value=='b'?'Data-driven RAQ-VAE (K = 256)':datum.value=='c'?'Data-driven RAQ-VAE (K = 128)':datum.value=='d'?'Model-based RAQ-VAE (K = 256)':'Model-based RAQ-VAE (K = 128)'","encode":{"symbols":{"update":{"shape":{"signal":"(datum.value=='b'||datum.value=='d')?'M-1,0H5M1.3,-0.7L2.7,0.7M1.3,0.7L2.7,-0.7':'M-1,0H5M2.8,0A0.8,0.8 0 1,1 1.2,0A0.8,0.8 0 1,1 2.8,0'"},"size":{"value":36}}}}}},
     "shape":{"field":"s","type":"nominal","scale":{"domain":["e","d","c","b","a"],"range":["circle","M-1,-1L1,1M-1,1L1,-1","circle","M-1,-1L1,1M-1,1L1,-1","circle"]},"legend":null}}}
  ]}
 ],"spacing":4,"bounds":"flush",
 "resolve":{"scale":{"color":"independent","stroke":"independent","fill":"independent","shape":"independent","strokeDash":"independent"},"legend":{"stroke":"independent","fill":"independent","shape":"independent"}}}
],"spacing":33,"bounds":"flush",
"resolve":{"scale":{"color":"independent","stroke":"independent","fill":"independent","shape":"independent","strokeDash":"independent"},"legend":{"stroke":"independent","fill":"independent","shape":"independent"}},
"title":{"text":"(b) CelebA, baseline model: VQ-VAE [48]","orient":"bottom","anchor":"middle","offset":6,"fontSize":15.5}}
],
"resolve":{"scale":{"color":"independent","stroke":"independent","fill":"independent","shape":"independent","strokeDash":"independent"},"legend":{"stroke":"independent","fill":"independent","shape":"independent"}},
"config":{
 "font":"Liberation Serif",
 "view":{"stroke":"#262626","strokeWidth":0.8},
 "axis":{"labelFont":"Liberation Serif","titleFont":"Liberation Serif","labelFontSize":8,"titleFontSize":9,"titleFontWeight":"normal","labelColor":"#262626","titleColor":"#262626","gridColor":"#e2e2e2","gridWidth":0.7,"ticks":false,"domain":false,"labelPadding":3,"titlePadding":2,"labelFlush":false,"labelOverlap":false},
 "legend":{"labelFont":"Liberation Serif","labelColor":"#000000","symbolSize":36},
 "title":{"font":"Liberation Serif","fontSize":12.5,"fontWeight":"normal","color":"#000000"}
}
}
